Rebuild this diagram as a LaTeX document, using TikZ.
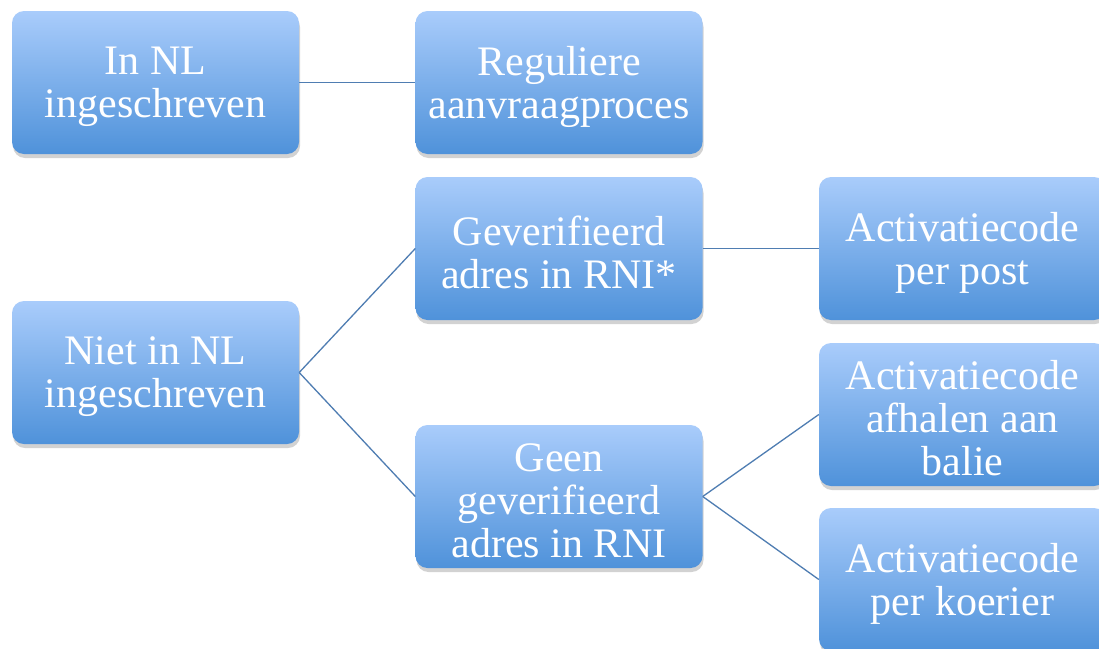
\documentclass[tikz,border=0pt]{standalone}
\usepackage{fontspec}
\setmainfont{Liberation Serif}
\usetikzlibrary{shadows}
\definecolor{boxtop}{HTML}{A9CCFB}
\definecolor{boxbot}{HTML}{4F92DA}
\definecolor{linkc}{HTML}{4F7DB2}
\tikzset{
  box/.style={draw=none, rounded corners=12pt, minimum width=287pt, minimum height=143pt,
    top color=boxtop, bottom color=boxbot, inner sep=0pt,
    drop shadow={opacity=0.35, shadow xshift=1pt, shadow yshift=-4pt}},
  boxtext/.style={text=white, align=center, inner sep=0pt,
    font=\fontsize{42}{43}\selectfont},
  link/.style={draw=linkc, line width=1.3pt}
}
\begin{document}
\begin{tikzpicture}[x=1pt,y=-1pt]
\useasboundingbox (0,0) rectangle (1099,648);
\clip (0,0) rectangle (1099,648);
\fill[white] (0,0) rectangle (1099,648);
\node[box] (A) at (155.5,82.5) {};
\node[box] (B) at (559,82.5) {};
\node[box] (C) at (559,248.5) {};
\node[box] (D) at (962.5,248.5) {};
\node[box] (E) at (155.5,372.5) {};
\node[box] (F) at (559,496.5) {};
\node[box] (G) at (962.5,414.5) {};
\node[box] (H) at (962.5,579.5) {};
\node[boxtext] (At) at ([yshift=-4pt]A.center) {In NL\\ingeschreven};
\node[boxtext] (Bt) at ([yshift=-4pt]B.center) {Reguliere\\aanvraagproces};
\node[boxtext] (Ct) at ([yshift=-4pt]C.center) {Geverifieerd\\adres in RNI*};
\node[boxtext] (Dt) at ([yshift=-4pt]D.center) {Activatiecode\\per post};
\node[boxtext] (Et) at ([yshift=-4pt]E.center) {Niet in NL\\ingeschreven};
\node[boxtext] (Ft) at ([yshift=-4pt]F.center) {Geen\\geverifieerd\\adres in RNI};
\node[boxtext] (Gt) at ([yshift=-4pt]G.center) {Activatiecode\\afhalen aan\\balie};
\node[boxtext] (Ht) at ([yshift=-4pt]H.center) {Activatiecode\\per koerier};
\draw[link] (A.east) -- (B.west);
\draw[link] (C.east) -- (D.west);
\draw[link] (E.east) -- (C.west);
\draw[link] (E.east) -- (F.west);
\draw[link] (F.east) -- (G.west);
\draw[link] (F.east) -- (H.west);
\end{tikzpicture}
\end{document}
